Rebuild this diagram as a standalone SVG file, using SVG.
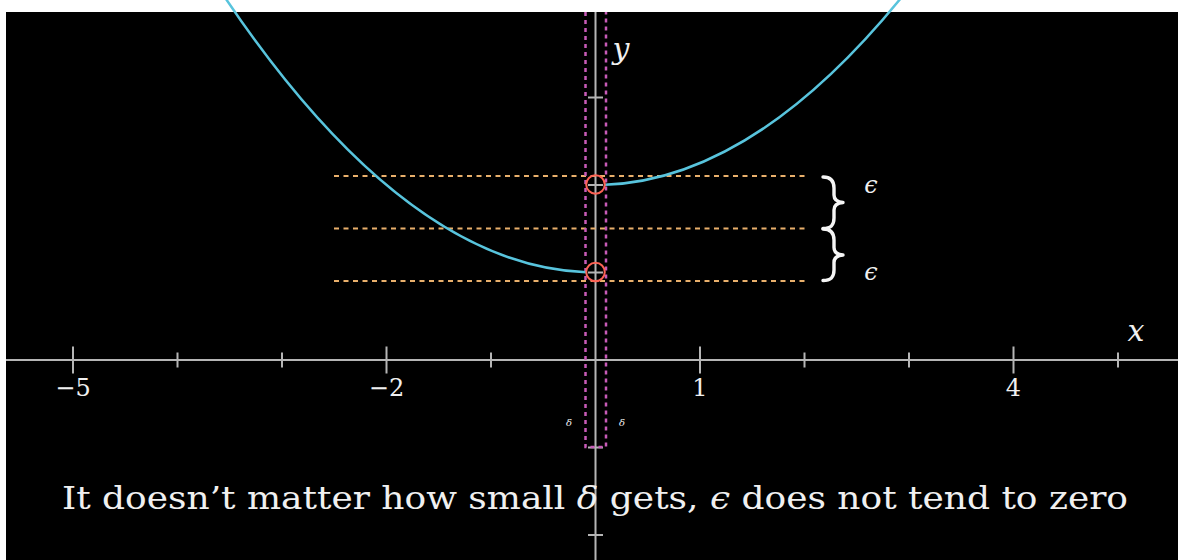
<svg xmlns="http://www.w3.org/2000/svg" width="1178" height="560" viewBox="0 0 1178 560">
<style>
.axis{stroke:#b5b5b5;stroke-width:2;fill:none}
.tick{stroke:#b5b5b5;stroke-width:2}
.curve{stroke:#58c4dd;stroke-width:2.5;fill:none}
.eps{stroke:#e9b06c;stroke-width:2;stroke-dasharray:5 4.5;fill:none}
.delta{stroke:#c85bb8;stroke-width:2.5;stroke-dasharray:4 4;fill:none}
.hole{stroke:#fc6255;stroke-width:2;fill:none}
.lbl{fill:#f0f0f0;font-family:'DejaVu Serif',serif}
.it{font-style:italic}
.brace{stroke:#f5f5f5;stroke-width:3.4;fill:none;stroke-linecap:round;stroke-linejoin:round}
</style>
<rect x="0" y="0" width="1178" height="560" fill="#ffffff"/>
<rect x="6" y="12" width="1172" height="548" fill="#000000"/>
<g id="axes">
  <line class="axis" x1="6" y1="360" x2="1178" y2="360"/>
  <line class="axis" x1="595.5" y1="12" x2="595.5" y2="560"/>
  <g id="xticks">
    <line class="tick" x1="73" y1="346.5" x2="73" y2="373.5"/>
    <line class="tick" x1="177.5" y1="352.5" x2="177.5" y2="367.5"/>
    <line class="tick" x1="282" y1="352.5" x2="282" y2="367.5"/>
    <line class="tick" x1="386.5" y1="346.5" x2="386.5" y2="373.5"/>
    <line class="tick" x1="491" y1="352.5" x2="491" y2="367.5"/>
    <line class="tick" x1="700" y1="346.5" x2="700" y2="373.5"/>
    <line class="tick" x1="804.5" y1="352.5" x2="804.5" y2="367.5"/>
    <line class="tick" x1="909" y1="352.5" x2="909" y2="367.5"/>
    <line class="tick" x1="1013.5" y1="346.5" x2="1013.5" y2="373.5"/>
    <line class="tick" x1="1118" y1="352.5" x2="1118" y2="367.5"/>
  </g>
  <g id="yticks">
    <line class="tick" x1="588" y1="97.5" x2="603" y2="97.5"/>
    <line class="tick" x1="588" y1="185" x2="603" y2="185"/>
    <line class="tick" x1="588" y1="272.5" x2="603" y2="272.5"/>
    <line class="tick" x1="588" y1="447.5" x2="603" y2="447.5"/>
    <line class="tick" x1="588" y1="535" x2="603" y2="535"/>
  </g>
  <g id="xlabels" class="lbl" font-size="24" text-anchor="middle">
    <text x="73" y="396">−5</text>
    <text x="386.5" y="396">−2</text>
    <text x="700" y="396">1</text>
    <text x="1013.5" y="396">4</text>
  </g>
  <text id="xname" class="lbl it" x="1136" y="341" font-size="30" text-anchor="middle">x</text>
  <text id="yname" class="lbl it" x="621" y="59" font-size="30" text-anchor="middle">y</text>
</g>
<g id="epsilon-lines">
  <line class="eps" x1="334" y1="176" x2="806" y2="176"/>
  <line class="eps" x1="334" y1="228.5" x2="806" y2="228.5"/>
  <line class="eps" x1="334" y1="281" x2="806" y2="281"/>
</g>
<g id="delta-band">
  <path class="delta" d="M585.5,12 L585.5,447 L606,447 L606,12"/>
  <text class="lbl it" x="569" y="426" font-size="10" text-anchor="middle" fill="#d0d0d0">δ</text>
  <text class="lbl it" x="622" y="426" font-size="10" text-anchor="middle" fill="#d0d0d0">δ</text>
</g>
<g id="graph">
  <path class="curve" d="M219.3,-11 Q402.7,265.4 586.1,272.3"/>
  <path class="curve" d="M604.9,184.8 Q757,179.1 909,-11.9"/>
</g>
<g id="holes">
  <circle class="hole" cx="595.5" cy="184.5" r="9.3"/>
  <circle class="hole" cx="595.5" cy="272" r="9.3"/>
</g>
<g id="braces">
  <path class="brace" d="M823,177 C831,177 834,181 834,188 L834,195 C834,199.5 837,202 843,202.5 C837,203 834,205.5 834,210 L834,218 C834,225 831,228.5 823,228.5"/>
  <path class="brace" d="M823,229 C831,229 834,233 834,240 L834,247.5 C834,252 837,254.5 843,255 C837,255.5 834,258 834,262.5 L834,270 C834,277 831,280.5 823,280.5"/>
  <text class="lbl it" x="871" y="193" font-size="24" text-anchor="middle">ϵ</text>
  <text class="lbl it" x="871" y="280" font-size="24" text-anchor="middle">ϵ</text>
</g>
<text id="caption" class="lbl" x="62" y="509" font-size="32" textLength="1066" lengthAdjust="spacingAndGlyphs">It doesn’t matter how small <tspan class="it">δ</tspan> gets, <tspan class="it">ϵ</tspan> does not tend to zero</text>
</svg>
